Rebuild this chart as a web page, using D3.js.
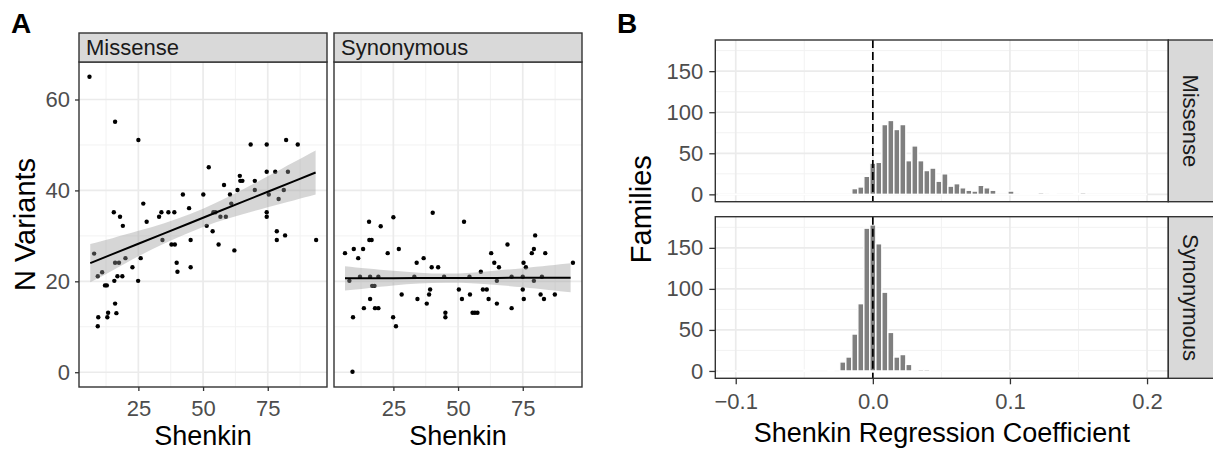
<!DOCTYPE html>
<html><head><meta charset="utf-8">
<script src="https://cdn.jsdelivr.net/npm/d3@7"></script>
<style>
body{margin:0;background:#fff}
svg{display:block}
text{font-family:"Liberation Sans",Arial,Helvetica,sans-serif}
</style>
</head><body>
<svg id="c" width="1213" height="452"></svg>
<script>
// ---------------- DATA ----------------
const facetNames = ["Missense", "Synonymous"];

const missenseX = [6.1,16.0,25.0,68.4,74.6,82.1,86.6,52.2,74.6,77.9,82.8,64.2,64.4,65.2,58.1,70.0,63.3,70.0,81.2,60.4,
  50.1,42.2,75.4,79.2,26.9,60.9,44.6,15.5,33.9,36.6,38.9,54.0,54.8,74.6,74.6,17.9,33.0,56.7,58.8,19.0,
  28.2,51.4,53.7,56.0,78.5,78.5,81.7,93.7,62.1,34.3,37.8,39.1,45.2,7.9,9.3,12.1,12.8,16.0,17.5,20.0,
  15.7,16.9,18.8,22.7,24.9,25.9,16.0,13.3,13.0,16.5,9.5,9.3,39.8,40.1,45.2,11.0];
const missenseY = [65,55.1,51.1,50.1,50.1,51.1,50.1,45.1,44.1,44.1,44.1,43.2,42.1,42.1,41.2,42.1,40.1,40.1,40.1,39.1,
  39.1,39.1,39.1,38.1,37.1,37.1,36.1,35.2,35.2,35.2,35.2,35.2,35.2,35.2,34.2,34.2,34.2,34.2,34.2,32.2,
  33.1,32.2,31.0,28.1,31.0,29.1,30.1,29.1,26.8,29.1,28.1,28.1,29.1,26.1,21.1,19.1,19.1,24.1,24.1,25.1,
  20.1,21.1,21.1,23.1,20.1,25.1,15.1,13.1,12.1,13.0,12.1,10.1,24.1,22.1,23.1,22.0];

const synonymousX = [15.6,20.1,25.0,40.2,52.3,6.3,9.7,11.4,13.3,15.7,16.6,27.1,22.8,62.8,78.5,83.7,36.7,69.1,79.8,79.3,
  34.0,64.0,75.3,94.4,39.8,42.3,65.8,76.2,58.8,12.1,16.0,19.2,33.1,44.6,54.4,70.7,75.0,82.4,8.0,65.0,
  79.3,16.8,17.7,39.2,50.3,59.6,61.1,75.0,28.2,38.8,54.6,81.9,87.4,16.0,34.3,51.5,61.8,75.4,83.2,37.9,
  65.0,13.6,17.9,19.2,70.7,45.1,55.6,56.5,57.5,9.4,24.9,45.1,26.0,9.2];
const synonymousY = [33.1,32.1,34.1,35.1,33.1,26.2,27.1,25.1,27.1,29.1,29.1,27.1,26.2,26.2,26.2,26.2,25.1,28.1,30.1,27.1,
  24.1,24.1,24.1,24.1,23.1,23.1,23.1,23.1,22.1,21.0,21.0,21.0,21.0,21.0,21.0,21.0,21.0,21.0,20.1,20.1,
  20.1,19.0,19.0,18.2,18.2,18.2,18.2,18.2,17.1,17.1,17.1,17.1,17.1,16.1,16.1,16.1,16.1,16.1,16.1,15.1,
  15.1,14.1,14.1,14.1,14.1,13.1,13.1,13.1,13.1,12.1,12.1,12.1,10.1,0.1];

// linear fit + 95% band
const missenseFitX = [6.4,15,25,35,45,55,65,75,85,93.5];
const missenseFit  = [24.0,25.97,28.26,30.55,32.84,35.13,37.42,39.71,42.0,43.94];
const missenseLo   = [19.8,22.4,25.5,28.3,30.8,33.0,34.7,36.3,37.8,39.1];
const missenseHi   = [28.2,29.5,31.1,32.8,34.8,37.3,40.1,43.1,46.2,48.8];
const synonymousFitX = [6.3,15,25,35,45,55,65,75,85,93.5];
const synonymousFit  = [20.66,20.67,20.69,20.71,20.72,20.74,20.75,20.77,20.79,20.8];
const synonymousLo   = [18.0,18.5,19.1,19.5,19.7,19.6,19.2,18.7,18.1,17.6];
const synonymousHi   = [23.3,22.8,22.3,21.9,21.7,21.9,22.4,22.9,23.5,24.0];

const shenkinTicks = [25,50,75];
const shenkinMinor = [12.5,37.5,62.5,87.5];
const variantTicks = [0,20,40,60];
const variantMinor = [10,30,50];

// histogram (Panel B)
const binWidth = 0.00438;
const missenseFirstBin = -0.01314;   // centre of first bin
const missenseCounts = [7,9,22,38,39,85,90,79,85,41,59,41,29,32,16,25,10,13,8,5,4,11,8,5,0,0,4,0,1,1,1,2,0,1,0,0,0,1,2];
const synonymousFirstBin = -0.04818;
const synonymousCounts = [1,0,0,0,1,0,11,17,45,82,174,178,155,96,47,17,20,8,0,2,2];
const emptyBinRange = [-0.113, 0.2];
const coefTicks = [-0.1,0,0.1,0.2];
const coefTickLabels = ["\u22120.1","0.0","0.1","0.2"];
const coefMinor = [-0.05,0.05,0.15];
const familyTicks = [0,50,100,150];
const familyMinor = [25,75,125,175];

// ---------------- DRAW ----------------
const svg = d3.select("#c");
const FONT = '"Liberation Sans",Arial,Helvetica,sans-serif';
const GRID = "#ebebeb", BORDER = "#333333", TICKTXT = "#4d4d4d", STRIP = "#d9d9d9";
const TICK_FS = 22, STRIP_FS = 22, TITLE_FS = 27;

function grid(g, xs, ys, xMaj, xMin, yMaj, yMin, x0, x1, y0, y1) {
  xMin.forEach(v => g.append("line").attr("x1", xs(v)).attr("x2", xs(v)).attr("y1", y0).attr("y2", y1).attr("stroke", "#f2f2f2").attr("stroke-width", 1));
  yMin.forEach(v => g.append("line").attr("y1", ys(v)).attr("y2", ys(v)).attr("x1", x0).attr("x2", x1).attr("stroke", "#f2f2f2").attr("stroke-width", 1));
  xMaj.forEach(v => g.append("line").attr("x1", xs(v)).attr("x2", xs(v)).attr("y1", y0).attr("y2", y1).attr("stroke", GRID).attr("stroke-width", 1.7));
  yMaj.forEach(v => g.append("line").attr("y1", ys(v)).attr("y2", ys(v)).attr("x1", x0).attr("x2", x1).attr("stroke", GRID).attr("stroke-width", 1.7));
}
function styleAxis(a, size) {
  a.select(".domain").remove();
  a.selectAll(".tick line").attr("stroke", BORDER).attr("stroke-width", 1.3);
  a.selectAll(".tick text").attr("fill", TICKTXT).style("font-size", size + "px").style("font-family", FONT);
}

// ---- Panel A ----
const A = {y0: 62, y1: 387, strip0: 33, panels: [[79, 327], [334, 582]]};
const yA = d3.scaleLinear().domain([-3.25, 68.25]).range([A.y1, A.y0]);
const facetData = [
  {x: missenseX, y: missenseY, fx: missenseFitX, f: missenseFit, lo: missenseLo, hi: missenseHi},
  {x: synonymousX, y: synonymousY, fx: synonymousFitX, f: synonymousFit, lo: synonymousLo, hi: synonymousHi}
];
A.panels.forEach((p, i) => {
  const xs = d3.scaleLinear().domain([2.05, 97.9]).range(p);
  const g = svg.append("g");
  g.append("rect").attr("x", p[0]).attr("y", A.y0).attr("width", p[1]-p[0]).attr("height", A.y1-A.y0).attr("fill", "#fff");
  grid(g, xs, yA, shenkinTicks, shenkinMinor, variantTicks, variantMinor, p[0], p[1], A.y0, A.y1);
  const d = facetData[i];
  g.selectAll("circle.pt").data(d.x.map((v, k) => [v, d.y[k]])).join("circle")
    .attr("cx", q => xs(q[0])).attr("cy", q => yA(q[1])).attr("r", 2.2).attr("fill", "#000");
  const band = d.fx.map((v, k) => ({x: v, lo: d.lo[k], hi: d.hi[k], f: d.f[k]}));
  g.append("path").datum(band)
    .attr("d", d3.area().x(q => xs(q.x)).y0(q => yA(q.lo)).y1(q => yA(q.hi)).curve(d3.curveNatural))
    .attr("fill", "#999999").attr("fill-opacity", 0.4);
  g.append("path").datum(band)
    .attr("d", d3.line().x(q => xs(q.x)).y(q => yA(q.f)))
    .attr("fill", "none").attr("stroke", "#000").attr("stroke-width", 2);
  g.append("rect").attr("x", p[0]).attr("y", A.y0).attr("width", p[1]-p[0]).attr("height", A.y1-A.y0)
    .attr("fill", "none").attr("stroke", BORDER).attr("stroke-width", 1.4);
  // strip
  g.append("rect").attr("x", p[0]).attr("y", A.strip0).attr("width", p[1]-p[0]).attr("height", A.y0-A.strip0)
    .attr("fill", STRIP).attr("stroke", BORDER).attr("stroke-width", 1.4);
  g.append("text").attr("x", p[0] + 7).attr("y", A.y0 - 7).text(facetNames[i])
    .style("font-size", STRIP_FS + "px").attr("fill", "#1a1a1a");
  // x axis
  const ax = svg.append("g").attr("transform", `translate(0,${A.y1})`)
    .call(d3.axisBottom(xs).tickValues(shenkinTicks).tickSize(4).tickPadding(9));
  styleAxis(ax, TICK_FS);
  svg.append("text").attr("x", (p[0]+p[1])/2).attr("y", 445).attr("text-anchor", "middle")
    .style("font-size", TITLE_FS + "px").attr("fill", "#000").text("Shenkin");
});
const ayA = svg.append("g").attr("transform", `translate(${A.panels[0][0]},0)`)
  .call(d3.axisLeft(yA).tickValues(variantTicks).tickSize(4).tickPadding(5));
styleAxis(ayA, TICK_FS);
svg.append("text").attr("transform", `translate(35,${(A.y0+A.y1)/2}) rotate(-90)`).attr("text-anchor", "middle")
  .style("font-size", "29px").attr("fill", "#000").text("N Variants");
svg.append("text").attr("x", 11).attr("y", 33).style("font-size", "28px").style("font-weight", "bold").text("A");

// ---- Panel B ----
const B = {x0: 715.3, x1: 1168.3, stripX1: 1215, rows: [[40, 201.7], [216.7, 378.3]]};
const xB = d3.scaleLinear().domain([-0.1149, 0.2155]).range([B.x0, B.x1]);
const hist = [
  {first: missenseFirstBin, counts: missenseCounts},
  {first: synonymousFirstBin, counts: synonymousCounts}
];
B.rows.forEach((r, i) => {
  const ys = d3.scaleLinear().domain([-8.95, 187.95]).range([r[1], r[0]]);
  const g = svg.append("g");
  g.append("rect").attr("x", B.x0).attr("y", r[0]).attr("width", B.x1-B.x0).attr("height", r[1]-r[0]).attr("fill", "#fff");
  grid(g, xB, ys, coefTicks, coefMinor, familyTicks, familyMinor, B.x0, B.x1, r[0], r[1]);
  g.append("line").attr("x1", xB(emptyBinRange[0])).attr("x2", xB(emptyBinRange[1]))
    .attr("y1", ys(0)).attr("y2", ys(0)).attr("stroke", "#fff").attr("stroke-width", 1.6);
  const bins = hist[i].counts.map((c, k) => ({c: hist[i].first + k*binWidth, n: c})).filter(b => b.n > 0);
  g.selectAll("rect.bar").data(bins).join("rect")
    .attr("x", b => xB(b.c - binWidth/2)).attr("width", b => xB(b.c + binWidth/2) - xB(b.c - binWidth/2))
    .attr("y", b => ys(b.n)).attr("height", b => ys(0) - ys(b.n))
    .attr("fill", "#7f7f7f").attr("stroke", "#fff").attr("stroke-width", 1.4);
  g.append("line").attr("x1", xB(0)).attr("x2", xB(0)).attr("y1", r[0]).attr("y2", r[1])
    .attr("stroke", "#000").attr("stroke-width", 1.7).attr("stroke-dasharray", "8,4");
  g.append("rect").attr("x", B.x0).attr("y", r[0]).attr("width", B.x1-B.x0).attr("height", r[1]-r[0])
    .attr("fill", "none").attr("stroke", BORDER).attr("stroke-width", 1.4);
  g.append("rect").attr("x", B.x1).attr("y", r[0]).attr("width", B.stripX1-B.x1).attr("height", r[1]-r[0])
    .attr("fill", STRIP).attr("stroke", BORDER).attr("stroke-width", 1.4);
  g.append("text").attr("transform", `translate(${B.x1 + 15},${(r[0]+r[1])/2}) rotate(90)`).attr("text-anchor", "middle")
    .style("font-size", STRIP_FS + "px").attr("fill", "#1a1a1a").text(facetNames[i]);
  const ay = svg.append("g").attr("transform", `translate(${B.x0},0)`)
    .call(d3.axisLeft(ys).tickValues(familyTicks).tickSize(6).tickPadding(6));
  styleAxis(ay, TICK_FS);
});
const axB = svg.append("g").attr("transform", `translate(0,${B.rows[1][1]})`)
  .call(d3.axisBottom(xB).tickValues(coefTicks).tickFormat((d, k) => coefTickLabels[k]).tickSize(6).tickPadding(9));
styleAxis(axB, TICK_FS);
svg.append("text").attr("x", (B.x0+B.x1)/2).attr("y", 442).attr("text-anchor", "middle")
  .style("font-size", TITLE_FS + "px").attr("fill", "#000").text("Shenkin Regression Coefficient");
svg.append("text").attr("transform", `translate(651,${(B.rows[0][0]+B.rows[1][1])/2}) rotate(-90)`).attr("text-anchor", "middle")
  .style("font-size", "29px").attr("fill", "#000").text("Families");
svg.append("text").attr("x", 617).attr("y", 33).style("font-size", "28px").style("font-weight", "bold").text("B");
</script>
</body></html>
